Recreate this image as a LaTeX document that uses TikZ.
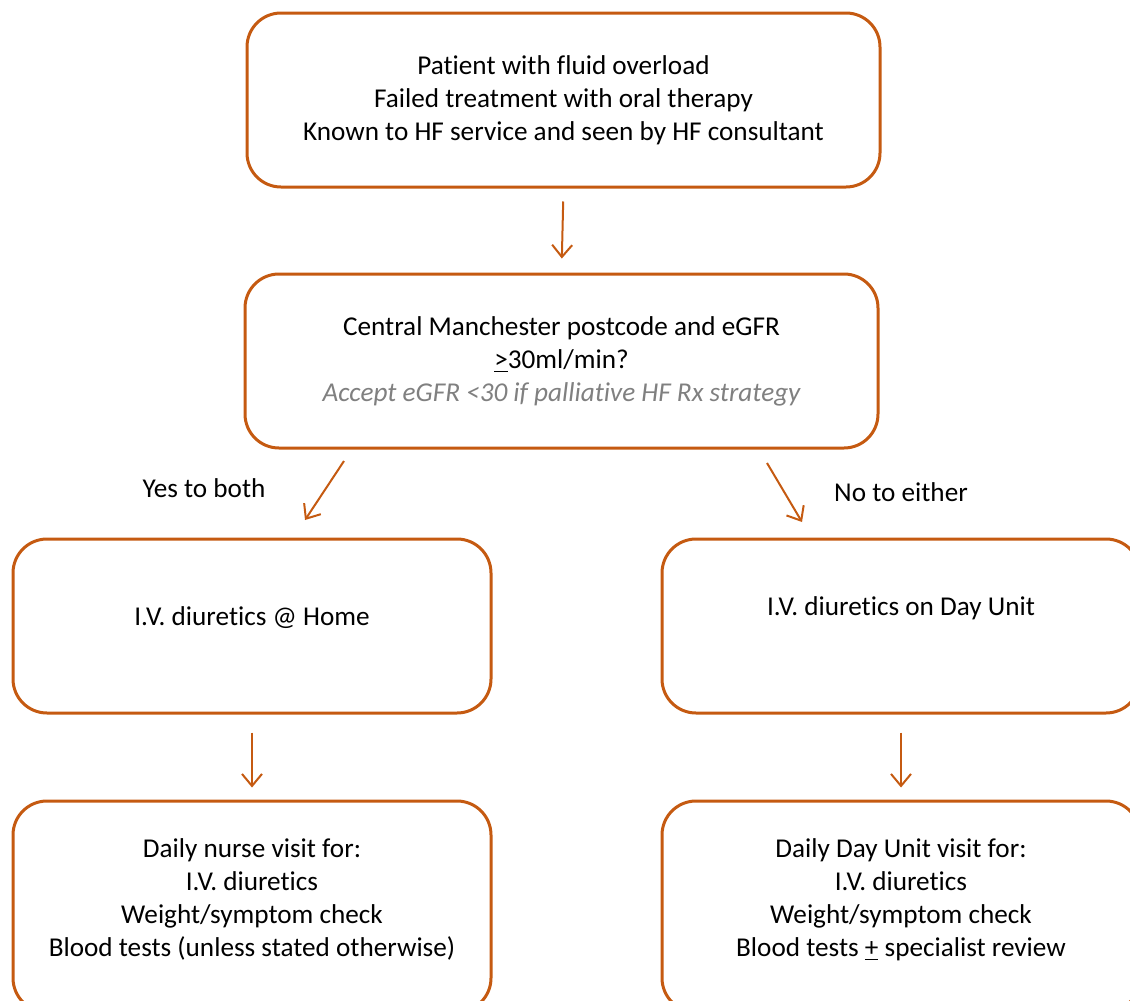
\documentclass[tikz,border=0pt]{standalone}
\usepackage{fontspec}
\setmainfont{Carlito}[Ligatures=NoCommon]
\usetikzlibrary{arrows.meta}
\definecolor{hforange}{RGB}{197,90,17}
\definecolor{hfgrey}{RGB}{128,128,128}
\tikzset{
  flowbox/.style={draw=hforange, line width=1.5pt, rounded corners=17pt, fill=white,
    align=center, inner sep=0pt, font=\fontsize{13.6}{16.5}\selectfont},
  flowarrow/.style={draw=hforange, line width=1pt, -{Straight Barb[length=6pt,width=10pt,line width=1pt]}},
  lbl/.style={font=\fontsize{13.6}{16.5}\selectfont, inner sep=0pt}
}
\begin{document}
\begin{tikzpicture}[x=0.5pt,y=-0.5pt]
\useasboundingbox (0,0) rectangle (1130,1001);
\node[flowbox, minimum width=316.5pt, minimum height=87pt] (top) at (563.5,100)
  {Patient with fluid overload\\Failed treatment with oral therapy\\Known to HF service and seen by HF consultant};
\node[flowbox, minimum width=316.5pt, minimum height=87pt] (crit) at (561.5,361)
  {Central Manchester postcode and eGFR\\\underline{>}30ml/min?\\{\color{hfgrey}\itshape Accept eGFR <30 if palliative HF Rx strategy}};
\node[flowbox, minimum width=239pt, minimum height=87pt] (home) at (252,626)
  {I.V. diuretics @ Home\\[-6.5pt]};
\node[flowbox, minimum width=239pt, minimum height=87pt] (day) at (901,626)
  {I.V. diuretics on Day Unit\\[3.5pt]};
\node[flowbox, minimum width=239pt, minimum height=105.5pt] (nurse) at (252,906.5)
  {Daily nurse visit for:\\I.V. diuretics\\Weight/symptom check\\Blood tests (unless stated otherwise)\\[-7.5pt]};
\node[flowbox, minimum width=239pt, minimum height=105.5pt] (dayvisit) at (901,906.5)
  {Daily Day Unit visit for:\\I.V. diuretics\\Weight/symptom check\\Blood tests \underline{+} specialist review\\[-7.5pt]};
\node[lbl] (yes) at (204,488) {Yes to both};
\node[lbl] (no) at (901,492) {No to either};
\coordinate (ys) at (344,461);
\coordinate (ye) at (305,520);
\coordinate (ns) at (767,463);
\coordinate (ne) at (802,522);
\draw[flowarrow, shorten <=6.5pt, shorten >=7pt] (top.south) -- (crit.north);
\draw[flowarrow] (ys) -- (ye);
\draw[flowarrow] (ns) -- (ne);
\draw[flowarrow, shorten <=9pt, shorten >=6pt] (home.south) -- (nurse.north);
\draw[flowarrow, shorten <=9pt, shorten >=6pt] (day.south) -- (dayvisit.north);
\end{tikzpicture}
\end{document}
